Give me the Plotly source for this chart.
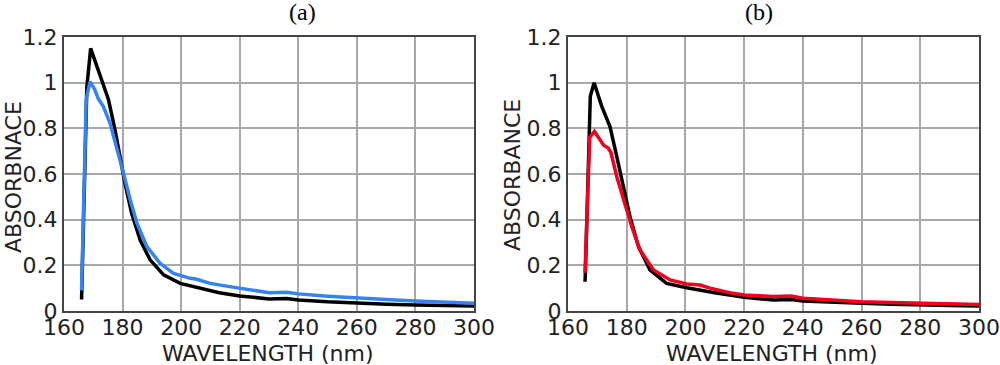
import plotly.graph_objects as go

# ---- data ----
x_ticks = [160, 180, 200, 220, 240, 260, 280, 300]
x_ticklabels = ["160", "180", "200", "220", "240", "260", "280", "300"]
y_ticks = [0, 0.2, 0.4, 0.6, 0.8, 1.0, 1.2]
y_ticklabels = ["0", "0.2", "0.4", "0.6", "0.8", "1", "1.2"]

# panel (a)
a_black_x = [166.0, 166.1, 167.8, 169.1, 171.2, 173.4, 175.2, 177.4, 179.1, 180.8, 183.1, 186.0,
             189.4, 194.0, 199.7, 206.5, 213, 220, 230, 236, 240, 250, 260, 270, 280, 290, 300]
a_black_y = [0.05, 0.10, 0.98, 1.15, 1.07, 0.99, 0.925, 0.794, 0.677, 0.56, 0.428, 0.311,
             0.224, 0.158, 0.121, 0.10, 0.08, 0.066, 0.053, 0.055, 0.048, 0.04, 0.034, 0.03, 0.026, 0.024, 0.022]
a_blue_x = [166.0, 167.6, 168.9, 170.5, 171.7, 173.4, 175.7, 178.0, 180.3, 182.6, 184.9, 188.3,
            192.8, 197.4, 200, 203.1, 205, 209.9, 215, 220, 230, 236, 240, 250, 260, 270, 280, 290, 300]
a_blue_y = [0.09, 0.93, 1.005, 0.97, 0.93, 0.896, 0.823, 0.72, 0.604, 0.487, 0.385, 0.282,
            0.209, 0.165, 0.155, 0.143, 0.14, 0.121, 0.11, 0.10, 0.08, 0.082, 0.075, 0.065, 0.056, 0.05, 0.044, 0.038, 0.034]

# panel (b)
b_black_x = [165.8, 165.9, 167.6, 168.9, 171.5, 174.3, 176.6, 178.8, 181.1, 184.0, 187.9, 193.6,
             200.4, 210, 220, 230, 236, 240, 250, 260, 270, 280, 290, 300]
b_black_y = [0.128, 0.16, 0.94, 1.0, 0.896, 0.808, 0.677, 0.545, 0.414, 0.282, 0.18, 0.121,
             0.102, 0.08, 0.06, 0.048, 0.05, 0.044, 0.038, 0.034, 0.03, 0.026, 0.024, 0.022]
b_red_x = [165.8, 167.4, 169.0, 170.9, 172.2, 173.6, 174.6, 176.6, 179.4, 181.7, 184.5, 189.1,
           194.8, 200.4, 205, 208.4, 215, 220, 230, 236, 240, 250, 260, 270, 280, 290, 300]
b_red_y = [0.167, 0.76, 0.786, 0.75, 0.725, 0.715, 0.695, 0.589, 0.472, 0.37, 0.268, 0.18,
           0.136, 0.118, 0.114, 0.1, 0.08, 0.07, 0.063, 0.066, 0.056, 0.048, 0.041, 0.037, 0.034, 0.031, 0.028]

BLACK = "#000000"
BLUE = "#3583f2"
RED = "#f0001c"
FONT = "DejaVu Sans"

fig = go.Figure()
fig.add_trace(go.Scatter(x=a_black_x, y=a_black_y, mode="lines",
                         line=dict(color=BLACK, width=3.5), xaxis="x", yaxis="y"))
fig.add_trace(go.Scatter(x=a_blue_x, y=a_blue_y, mode="lines",
                         line=dict(color=BLUE, width=3.5), xaxis="x", yaxis="y"))
fig.add_trace(go.Scatter(x=b_black_x, y=b_black_y, mode="lines",
                         line=dict(color=BLACK, width=3.5), xaxis="x2", yaxis="y2"))
fig.add_trace(go.Scatter(x=b_red_x, y=b_red_y, mode="lines",
                         line=dict(color=RED, width=3.5), xaxis="x2", yaxis="y2"))

y_dom = [1 - 311 / 365, 1 - 37 / 365]

xcommon = dict(range=[160, 300], tickvals=x_ticks, ticktext=x_ticklabels,
               showgrid=True, gridcolor="#a8a8a8", gridwidth=1.5,
               showline=True, linecolor="#444444", linewidth=2, mirror=True,
               zeroline=False, ticks="", ticklen=0, automargin=False,
               ticklabelstandoff=-4,
               tickfont=dict(family=FONT, size=22, color="#222222"))
ycommon = dict(range=[0, 1.2], tickvals=y_ticks, ticktext=y_ticklabels,
               showgrid=True, gridcolor="#a8a8a8", gridwidth=1.5,
               showline=True, linecolor="#444444", linewidth=2, mirror=True,
               zeroline=False, ticks="", ticklen=0, automargin=False,
               tickfont=dict(family=FONT, size=22, color="#222222"), domain=y_dom)

fig.update_layout(
    width=1000, height=365,
    margin=dict(l=0, r=0, t=0, b=0),
    paper_bgcolor="white", plot_bgcolor="white",
    showlegend=False,
    xaxis=dict(domain=[64 / 1000, 474 / 1000], anchor="y", **xcommon),
    yaxis=dict(anchor="x", **ycommon),
    xaxis2=dict(domain=[568 / 1000, 979 / 1000], anchor="y2", **xcommon),
    yaxis2=dict(anchor="x2", **ycommon),
)

ann_font = dict(family=FONT, size=22, color="#222222")
title_font = dict(family="Liberation Serif", size=24, color="#000000")
annotations = [
    dict(text="(a)", x=302 / 1000, y=1 - 12 / 365, xref="paper", yref="paper",
         showarrow=False, font=title_font, xanchor="center", yanchor="middle"),
    dict(text="(b)", x=759 / 1000, y=1 - 12 / 365, xref="paper", yref="paper",
         showarrow=False, font=title_font, xanchor="center", yanchor="middle"),
    dict(text="WAVELENGTH (nm)", x=268 / 1000, y=1 - 353 / 365, xref="paper", yref="paper",
         showarrow=False, font=ann_font, xanchor="center", yanchor="middle"),
    dict(text="WAVELENGTH (nm)", x=772 / 1000, y=1 - 353 / 365, xref="paper", yref="paper",
         showarrow=False, font=ann_font, xanchor="center", yanchor="middle"),
    dict(text="ABSORBNACE", x=13 / 1000, y=1 - 177 / 365, xref="paper", yref="paper",
         showarrow=False, font=ann_font, textangle=-90, xanchor="center", yanchor="middle"),
    dict(text="ABSORBANCE", x=513 / 1000, y=1 - 175 / 365, xref="paper", yref="paper",
         showarrow=False, font=ann_font, textangle=-90, xanchor="center", yanchor="middle"),
]
fig.update_layout(annotations=annotations)

fig.write_html("out.html", config={"displayModeBar": False},
               post_script="document.body.style.margin='0';document.body.style.padding='0';")
